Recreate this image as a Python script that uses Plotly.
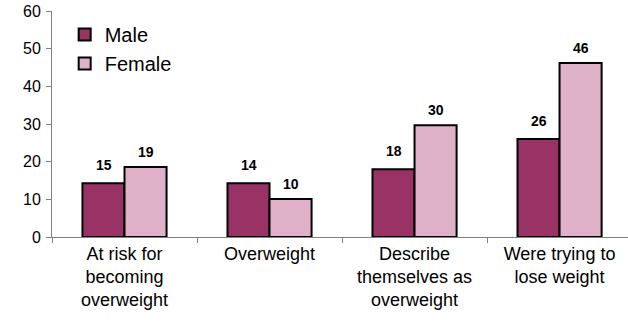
import plotly.graph_objects as go

categories = ["At risk for<br>becoming<br>overweight", "Overweight",
              "Describe<br>themselves as<br>overweight", "Were trying to<br>lose weight"]
male_values = [14.3, 14.3, 18.0, 26.0]
female_values = [18.6, 10.1, 29.7, 46.2]
male_labels = ["15", "14", "18", "26"]
female_labels = ["19", "10", "30", "46"]
y_ticks = [0, 10, 20, 30, 40, 50, 60]

MALE_COLOR = "#993366"
FEMALE_FG = "#a8306e"
FONT = "Liberation Sans, Arial, sans-serif"

fig = go.Figure()
fig.add_trace(go.Bar(
    name="Male", x=categories, y=male_values,
    marker=dict(color=MALE_COLOR, line=dict(color="black", width=2)),
))
fig.add_trace(go.Bar(
    name="Female", x=categories, y=female_values,
    marker=dict(color="white", line=dict(color="black", width=2),
                pattern=dict(shape=".", fgcolor=FEMALE_FG, bgcolor="white",
                             size=2, solidity=0.75)),
))

# value labels
for vals, labs, shift, ysh in [(male_values, male_labels, -21, 18),
                               (female_values, female_labels, 21, 15)]:
    for c, v, t in zip(categories, vals, labs):
        fig.add_annotation(x=c, y=v, text=f"<b>{t}</b>", showarrow=False,
                           xshift=shift, yshift=ysh, yanchor="middle",
                           font=dict(family=FONT, size=14, color="black"))

fig.update_layout(
    width=628, height=325,
    margin=dict(l=52, r=0, t=11, b=88, autoexpand=False),
    paper_bgcolor="white", plot_bgcolor="white",
    barmode="group", bargap=0.42, bargroupgap=0,
    font=dict(family=FONT, color="black"),
    showlegend=True,
    legend=dict(x=0.022, y=0.982, xanchor="left", yanchor="top",
                bgcolor="rgba(0,0,0,0)", font=dict(size=20, family=FONT),
                tracegroupgap=0),
)
fig.update_xaxes(
    range=[-0.5, 3.472], showline=True, linecolor="#808080", linewidth=1,
    ticks="outside", tickson="boundaries", ticklen=5, tickcolor="#808080",
    tickfont=dict(size=18, family=FONT), showgrid=False, automargin=False,
)
fig.update_yaxes(
    range=[0, 60], tickvals=y_ticks, showline=True, linecolor="#808080",
    linewidth=1, ticks="outside", ticklen=5, tickcolor="#808080",
    tickfont=dict(size=16, family=FONT), showgrid=False, zeroline=False,
    automargin=False, ticklabelstandoff=2, ticklabeloverflow="allow",
)

# remove the browser's default 8px body margin so the figure sits at the page corner
fig.write_html("out.html", config={"displayModeBar": False},
               post_script="document.body.style.margin='0';")
